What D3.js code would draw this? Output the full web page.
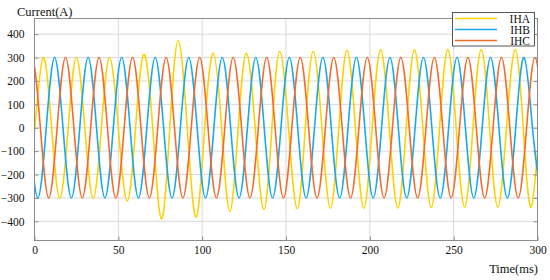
<!DOCTYPE html>
<html><head><meta charset="utf-8">
<script src="https://cdn.jsdelivr.net/npm/d3@7/dist/d3.min.js"></script>
<style>body{margin:0;background:#fff}svg{display:block}</style>
</head><body>
<script>
// ---- data ----
const xTicks = [0, 50, 100, 150, 200, 250, 300];
const yTicks = [-400, -300, -200, -100, 0, 100, 200, 300, 400];
const seriesNames = ["IHA", "IHB", "IHC"];

const ihaTime = [-4.8,0.2,5.2,10.2,15.1,20.1,25.0,30.0,35.0,39.9,44.7,50.0,55.3,60.3,65.2,70.5,75.7,80.7,85.7,91.1,96.4,101.5,106.6,111.6,116.5,121.5,126.4,131.6,136.8,141.6,146.3,151.5,156.7,161.5,166.2,171.4,176.5,181.5,186.4,191.4,196.4,201.4,206.4,211.6,216.7,221.7,226.6,231.6,236.6,241.6,246.5,251.5,256.5,261.5,266.4,271.4,276.3,281.5,286.7,291.5,296.2,301.2,306.2];
const ihaValue = [-300,0,300,0,-300,0,300,0,-300,0,300,0,-313,0,314,0,-390,0,372,0,-382,0,318,0,-358,0,318,0,-350,0,326,0,-346,0,327,0,-344,0,332,0,-344,0,333,0,-343,0,333,0,-341,0,334,0,-339,0,334,0,-339,0,334,0,-339,0,334];

const ihbTime = [-3,2,7,12,17,22,27,32,37,42,47,52,57,62,67,72,77,82,87,92,97,102,107,112,117,122,127,132,137,142,147,152,157,162,167,172,177,182,187,192,197,202,207,212,217,222,227,232,237,242,247,252,257,262,267,272,277,282,287,292,297,302];
const ihbValue = [0,-300,0,300,0,-300,0,300,0,-300,0,300,0,-300,0,300,0,-300,0,300,0,-300,0,300,0,-300,0,300,0,-300,0,300,0,-300,0,300,0,-300,0,300,0,-300,0,300,0,-300,0,300,0,-300,0,300,0,-300,0,300,0,-300,0,300,0,-300];

const ihcTime = [-6.5,-1.5,3.5,8.5,13.5,18.5,23.5,28.5,33.5,38.5,43.5,48.5,53.5,58.5,63.5,68.5,73.5,78.5,83.5,88.5,93.5,98.5,103.5,108.5,113.5,118.5,123.5,128.5,133.5,138.5,143.5,148.5,153.5,158.5,163.5,168.5,173.5,178.5,183.5,188.5,193.5,198.5,203.5,208.5,213.5,218.5,223.5,228.5,233.5,238.5,243.5,248.5,253.5,258.5,263.5,268.5,273.5,278.5,283.5,288.5,293.5,298.5,303.5];
const ihcValue = [0,300,0,-300,0,300,0,-300,0,300,0,-300,0,300,0,-300,0,300,0,-300,0,300,0,-300,0,300,0,-300,0,300,0,-300,0,300,0,-300,0,300,0,-300,0,300,0,-300,0,300,0,-300,0,300,0,-300,0,300,0,-300,0,300,0,-300,0,300,0];

// ---- layout / style ----
const W = 550, H = 280;
const colors = ["#FFD100", "#15AAEE", "#F66A2C"];
const font = "'Liberation Serif','Times New Roman',serif";

const svg = d3.select("body").append("svg").attr("width", W).attr("height", H)
  .attr("font-family", font);
const x = d3.scaleLinear().domain([0, 300]).range([34.5, 537.5]);
const y = d3.scaleLinear().domain([-482, 467]).range([240.5, 18.5]);

// grid
svg.append("g").selectAll("line").data(yTicks).join("line")
  .attr("x1", x(0)).attr("x2", x(300)).attr("y1", d => y(d)).attr("y2", d => y(d))
  .attr("stroke", "#d9d9d9").attr("stroke-width", 1);
svg.append("g").selectAll("line").data(xTicks.slice(1, -1)).join("line")
  .attr("y1", y.range()[0]).attr("y2", y.range()[1]).attr("x1", d => x(d)).attr("x2", d => x(d))
  .attr("stroke", "#d9d9d9").attr("stroke-width", 1);

// clip + series
svg.append("clipPath").attr("id", "clip").append("rect")
  .attr("x", x(0)).attr("y", y.range()[1]).attr("width", x(300) - x(0)).attr("height", y.range()[0] - y.range()[1]);
const series = [
  {t: ihaTime, v: ihaValue},
  {t: ihbTime, v: ihbValue},
  {t: ihcTime, v: ihcValue}
];
const line = d3.line().x(d => x(d[0])).y(d => y(d[1])).curve(d3.curveNatural);
const gS = svg.append("g").attr("clip-path", "url(#clip)");
series.forEach((s, i) => {
  gS.append("path").datum(d3.zip(s.t, s.v)).attr("d", line)
    .attr("fill", "none").attr("stroke", colors[i]).attr("stroke-width", 1.6);
});

// frame
svg.append("rect").attr("x", x(0)).attr("y", y.range()[1]).attr("width", x(300) - x(0))
  .attr("height", y.range()[0] - y.range()[1]).attr("fill", "none").attr("stroke", "#8c8c8c");

// axes
const axL = svg.append("g").attr("transform", `translate(${x(0)},0)`)
  .call(d3.axisLeft(y).tickValues(yTicks).tickSize(-4).tickPadding(10));
const axR = svg.append("g").attr("transform", `translate(${x(300)},0)`)
  .call(d3.axisRight(y).tickValues(yTicks).tickSize(-4).tickFormat(""));
const axB = svg.append("g").attr("transform", `translate(0,${y.range()[0]})`)
  .call(d3.axisBottom(x).tickValues(xTicks).tickSize(-4).tickPadding(5));
[axL, axR, axB].forEach(a => {
  a.attr("font-family", font).attr("font-size", 11.5);
  a.select(".domain").remove();
  a.selectAll(".tick line").attr("stroke", "#8c8c8c");
  a.selectAll("text").attr("font-family", font).attr("font-size", 11.5).attr("fill", "#111");
});

// titles
svg.append("text").attr("x", 17).attr("y", 15.5).text("Current(A)")
  .attr("font-family", font).attr("font-size", 12.5).attr("fill", "#111");
svg.append("text").attr("x", 538).attr("y", 273).attr("text-anchor", "end").text("Time(ms)")
  .attr("font-family", font).attr("font-size", 12.5).attr("fill", "#111");

// legend
const lg = svg.append("g");
lg.append("rect").attr("x", 452.5).attr("y", 12.5).attr("width", 82).attr("height", 33.5)
  .attr("fill", "#fff").attr("stroke", "#555");
seriesNames.forEach((n, i) => {
  const yy = 18.5 + i * 11;
  lg.append("line").attr("x1", 455).attr("x2", 497).attr("y1", yy).attr("y2", yy)
    .attr("stroke", colors[i]).attr("stroke-width", 1.6);
  lg.append("text").attr("x", 530).attr("y", yy + 4).attr("text-anchor", "end").text(n)
    .attr("font-family", font).attr("font-size", 11.5).attr("fill", "#111");
});
</script>
</body></html>
